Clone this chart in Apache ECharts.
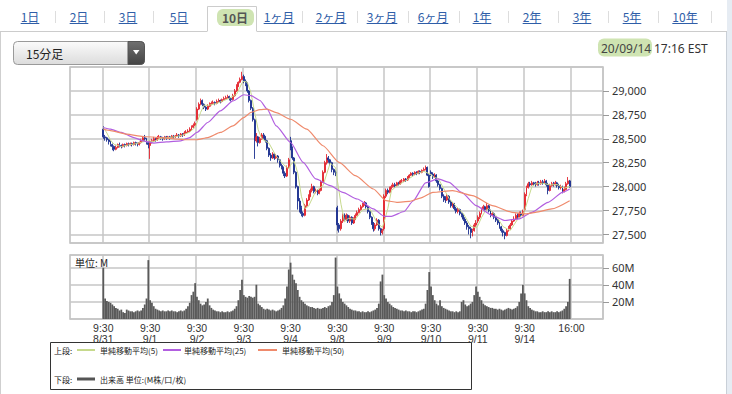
<!DOCTYPE html>
<html><head><meta charset="utf-8">
<script src="https://cdn.jsdelivr.net/npm/echarts@6/dist/echarts.min.js"></script>
<style>html,body{margin:0;padding:0;background:#fff;}#c{width:732px;height:394px;}</style>
</head><body><div id="c"></div><script>
// ---------- DATA ----------
const days = ['8/31','9/1','9/2','9/3','9/4','9/8','9/9','9/10','9/11','9/14'];
const openTimeLabel = '9:30';
const closeTimeLabel = '16:00';
const barsPerDay = 26;
const dayOpens = [28600,28430,28700,29150,28480,27780,27560,28150,27640,27760];
const closes = [
 [28520,28510,28490,28470,28440,28420,28390,28410,28440,28430,28420,28440,28430,28450,28440,28450,28440,28460,28450,28440,28460,28480,28510,28500,28460,28440],
 [28470,28480,28500,28490,28510,28520,28510,28500,28520,28510,28520,28510,28530,28520,28530,28540,28530,28550,28540,28560,28570,28580,28600,28620,28640,28660],
 [28810,28860,28900,28860,28830,28810,28840,28860,28870,28880,28870,28890,28900,28890,28910,28920,28930,28940,28920,28910,28950,29000,29050,29090,29120,29150],
 [29100,29080,29000,28900,28820,28700,28480,28520,28460,28500,28540,28520,28480,28400,28330,28300,28340,28300,28320,28280,28220,28200,28140,28110,28200,28280],
 [28400,28300,28150,28000,27850,27780,27720,27700,27800,27860,27900,27960,28000,27950,27960,27930,27960,28050,28150,28250,28300,28280,28250,28180,28150,28130],
 [27600,27560,27640,27700,27660,27700,27640,27680,27620,27660,27700,27730,27760,27790,27810,27830,27790,27740,27680,27620,27560,27600,27650,27560,27520,27540],
 [27900,27960,27940,27990,28000,28020,28010,28040,28030,28060,28060,28080,28070,28100,28120,28140,28130,28150,28140,28160,28150,28170,28180,28200,28120,28000],
 [28130,28100,28120,28060,28020,27980,27900,27880,27860,27900,27840,27800,27820,27770,27740,27760,27720,27700,27660,27620,27580,27560,27520,27540,27600,27620],
 [27680,27720,27760,27790,27760,27800,27750,27700,27720,27680,27650,27620,27580,27540,27520,27490,27540,27560,27600,27640,27660,27700,27680,27720,27700,27740],
 [27920,27990,28030,28020,28040,28030,28020,28040,28030,28050,28040,28060,28020,27960,28010,28030,28020,28040,28010,27990,28000,27950,27970,28030,28060,28000]
];
const highs = [
 [28630,28540,28520,28500,28480,28450,28430,28430,28450,28460,28440,28450,28450,28460,28460,28460,28460,28470,28470,28460,28470,28500,28530,28540,28510,28470],
 [28480,28500,28520,28510,28530,28540,28530,28520,28530,28530,28530,28530,28540,28540,28540,28560,28550,28560,28560,28580,28590,28600,28620,28640,28660,28680],
 [28830,28880,28920,28910,28870,28840,28860,28880,28890,28900,28890,28910,28920,28910,28920,28940,28950,28960,28950,28930,28970,29020,29070,29100,29140,29200],
 [29170,29120,29090,29010,28910,28830,28710,28560,28530,28520,28560,28560,28530,28490,28410,28350,28360,28350,28340,28330,28290,28240,28210,28160,28220,28300],
 [28520,28420,28310,28160,28010,27880,27800,27740,27820,27880,27920,27980,28030,28010,27980,27970,27980,28070,28170,28270,28340,28320,28290,28260,28190,28170],
 [27800,27620,27660,27720,27720,27720,27710,27700,27690,27680,27720,27750,27780,27810,27830,27850,27840,27800,27750,27690,27630,27620,27670,27660,27570,27560],
 [27920,27980,27980,28000,28020,28040,28040,28050,28050,28070,28080,28090,28090,28110,28130,28150,28150,28160,28160,28170,28170,28180,28200,28220,28210,28130],
 [28170,28150,28140,28130,28070,28030,27990,27920,27900,27920,27910,27860,27840,27830,27790,27780,27770,27730,27710,27680,27640,27600,27580,27560,27620,27650],
 [27700,27740,27780,27810,27800,27830,27810,27760,27740,27730,27690,27660,27630,27590,27560,27530,27560,27590,27620,27660,27690,27720,27720,27740,27740,27760],
 [27940,28010,28050,28050,28060,28050,28050,28060,28060,28070,28070,28080,28070,28040,28030,28050,28050,28060,28050,28030,28020,28010,28000,28050,28100,28070]
];
const lows = [
 [28500,28480,28470,28440,28420,28380,28370,28380,28400,28410,28400,28410,28410,28420,28420,28430,28420,28430,28430,28420,28430,28450,28470,28480,28440,28400],
 [28290,28450,28470,28470,28480,28500,28490,28480,28490,28490,28500,28490,28500,28500,28510,28520,28510,28520,28520,28530,28550,28560,28570,28590,28610,28630],
 [28690,28800,28850,28840,28810,28790,28800,28830,28850,28860,28850,28860,28880,28870,28880,28900,28910,28920,28900,28890,28900,28940,28990,29040,29080,29110],
 [29080,29050,28980,28880,28800,28680,28290,28460,28420,28450,28490,28500,28460,28380,28310,28270,28290,28280,28290,28250,28200,28180,28110,28090,28100,28190],
 [28380,28280,28130,27980,27760,27730,27690,27680,27690,27790,27850,27890,27940,27930,27930,27910,27920,27950,28040,28140,28230,28250,28220,28150,28120,28110],
 [27540,27520,27540,27620,27640,27640,27620,27620,27600,27610,27650,27690,27720,27750,27780,27800,27770,27720,27660,27600,27530,27540,27590,27540,27490,27500],
 [27540,27880,27920,27930,27970,27990,27990,28000,28010,28020,28040,28050,28050,28060,28090,28110,28110,28120,28120,28130,28130,28140,28160,28170,28110,27990],
 [28110,28080,28090,28040,28000,27960,27880,27840,27830,27850,27820,27780,27780,27750,27720,27720,27700,27680,27640,27600,27550,27500,27460,27480,27530,27580],
 [27620,27660,27710,27750,27740,27750,27730,27680,27690,27660,27630,27600,27560,27520,27480,27450,27480,27530,27550,27590,27630,27650,27660,27670,27680,27690],
 [27740,27900,27980,28000,28010,28010,28000,28010,28010,28020,28020,28030,28000,27920,27950,28000,28000,28010,27990,27970,27970,27930,27940,27960,28020,27990]
];
// volume, millions of shares per 15-minute bar
const volumes = [
 [60,24,21,20,19,17,15,13,12,10,11,8,7,11,10,9,9,8,9,10,9,10,13,17,24,69],
 [22,19,15,12,11,10,9,10,9,9,10,9,10,9,9,8,9,10,9,10,12,15,19,28,32,42],
 [26,22,18,16,17,20,24,16,13,11,10,9,9,8,9,8,8,9,8,9,10,12,15,22,34,46],
 [28,26,25,27,26,25,26,40,18,16,14,12,11,12,11,10,11,10,9,10,11,13,16,24,38,58],
 [66,52,46,42,34,26,22,20,18,16,15,14,14,13,12,13,12,12,13,14,13,15,16,20,28,72],
 [38,30,24,20,18,16,14,12,11,10,10,9,9,8,9,8,8,9,8,9,10,11,13,18,44,52],
 [28,24,20,18,16,14,13,12,11,10,10,9,10,9,9,8,9,9,8,9,10,11,12,18,34,55],
 [38,28,22,18,16,22,15,13,12,11,10,9,9,8,9,8,9,20,22,17,15,16,18,20,28,38],
 [32,26,22,18,16,15,14,13,13,12,12,11,12,11,10,11,12,13,12,11,12,13,15,20,30,40],
 [30,22,15,13,11,10,9,9,8,8,9,8,8,9,8,9,8,8,9,8,9,10,12,15,20,47]
];
// moving averages: [bar number from 8/31 9:30, value]
const ma5 = [[0,28620],[2,28560],[4,28486],[6,28442],[10,28418],[14,28436],[18,28448],[22,28468],[25,28478],
 [26,28476],[28,28470],[30,28490],[32,28506],[36,28512],[40,28522],[44,28538],[48,28570],[51,28620],
 [52,28666],[54,28774],[56,28852],[58,28848],[62,28864],[66,28892],[70,28924],[74,28966],[77,29082],
 [78,29102],[80,29090],[82,28980],[84,28780],[86,28596],[88,28500],[92,28454],[96,28318],[100,28232],[103,28186],
 [104,28226],[106,28266],[108,28140],[110,27900],[112,27770],[114,27796],[118,27954],[122,28010],[126,28246],[129,28198],
 [130,28062],[132,27816],[134,27632],[136,27668],[140,27660],[144,27758],[148,27770],[152,27622],[155,27574],
 [156,27634],[158,27772],[160,27958],[162,27992],[166,28040],[170,28086],[174,28136],[178,28160],[181,28134],
 [182,28126],[184,28094],[186,28086],[188,28016],[192,27876],[196,27794],[200,27716],[204,27588],[207,27568],
 [208,27592],[210,27676],[212,27742],[214,27772],[218,27700],[222,27582],[226,27542],[230,27656],[233,27708],
 [234,27752],[236,27876],[238,28000],[240,28028],[244,28036],[248,28018],[252,28022],[256,27984],[259,28002]];
const ma25 = [[0,28618],[4,28600],[10,28566],[17,28513],[22,28479],[28,28455],[35,28468],[43,28479],[48,28513],[52,28566],
 [58,28670],[65,28791],[72,28895],[78,28960],[82,28950],[87,28900],[91,28809],[96,28635],[104,28461],[111,28253],
 [118,28080],[126,28010],[133,27940],[141,27871],[150,27767],[156,27690],[160,27690],[167,27740],[172,27850],[179,28040],
 [186,28080],[192,28045],[199,27940],[207,27802],[216,27698],[223,27646],[231,27663],[238,27732],[247,27836],[255,27940],[259,27975]];
const ma50 = [[0,28600],[4,28585],[13,28548],[22,28524],[32,28513],[41,28496],[46,28490],[52,28490],[58,28513],[65,28566],
 [72,28635],[78,28722],[82,28775],[87,28805],[91,28809],[96,28774],[104,28704],[113,28600],[122,28427],[131,28253],
 [140,28114],[150,27975],[157,27853],[163,27836],[170,27845],[176,27880],[183,27940],[194,27958],[205,27906],[216,27802],
 [227,27732],[235,27715],[240,27732],[249,27767],[259,27853]];
const tabLabels = ['1日','2日','3日','5日','10日','1ヶ月','2ヶ月','3ヶ月','6ヶ月','1年','2年','3年','5年','10年'];
const selectedTab = '10日';
const intervalLabel = '15分足';
const dateText = '20/09/14';
const timeText = '17:16 EST';
const legendTop = ['上段:', '単純移動平均(5)', '単純移動平均(25)', '単純移動平均(50)'];
const legendBottom = ['下段:', '出来高 単位:(M株/口/枚)'];
const volUnitText = '単位: M';

// ---------- BUILD ----------
const PAD = 18;
const nBars = days.length * barsPerDay;
const nCats = PAD * 2 + nBars;
const timeCats = new Array(nCats).fill('');
const dateCats = new Array(nCats).fill('');
const dayStart = new Set();
days.forEach((d, i) => {
  timeCats[PAD + i * barsPerDay] = openTimeLabel;
  dateCats[PAD + i * barsPerDay] = d;
  dayStart.add(PAD + i * barsPerDay);
});
timeCats[PAD + nBars] = closeTimeLabel; dayStart.add(PAD + nBars);

const candleData = [], volData = [];
days.forEach((d, di) => {
  for (let k = 0; k < barsPerDay; k++) {
    const o = k === 0 ? dayOpens[di] : closes[di][k - 1];
    candleData.push([PAD + di * barsPerDay + k, o, closes[di][k], lows[di][k], highs[di][k]]);
    volData.push([PAD + di * barsPerDay + k, volumes[di][k]]);
  }
});
const shift = arr => arr.map(p => [PAD + p[0], p[1]]);

const UP = '#e3262f', DOWN = '#1b2f8f';
const C5 = '#c6d98c', C25 = '#b25fe0', C50 = '#ef8a6c';
const GRID = '#c6c6c6';
const CJK = '"Noto Sans CJK JP"';
const LAT = '"Noto Sans"';

// ---------- GRAPHICS ----------
const g = [];
const mctx = document.createElement('canvas').getContext('2d');
function tw(t, font) { mctx.font = font; return mctx.measureText(t).width; }
function txt(x, y, text, font, fill, align) {
  g.push({type: 'text', x: x, y: y, z: 20, silent: true,
    style: {text: text, font: font, fill: fill, align: align || 'left', verticalAlign: 'middle'}});
}
function ln(x1, y1, x2, y2, stroke, w) {
  g.push({type: 'line', z: 15, silent: true, shape: {x1, y1, x2, y2}, style: {stroke: stroke, lineWidth: w}});
}
function rc(x, y, w, h, style, r, z) {
  g.push({type: 'rect', z: z || 5, silent: true, shape: {x, y, width: w, height: h, r: r || 0}, style: style});
}
// page frame
rc(727, 0, 5, 394, {fill: '#e6ecf3'}, 0, 1);
ln(726.5, 31, 726.5, 394, '#c9d0d8', 1);
ln(0.5, 31, 0.5, 394, '#cfcfcf', 1);
// tabs
const tabCenters = [30, 79, 128, 179, 232, 279, 331, 382, 433, 482, 532, 582, 632, 685];
const sepX = [55, 104, 153, 302, 357, 408, 459, 508, 558, 608, 658, 711];
sepX.forEach(x => ln(x + 0.5, 11, x + 0.5, 23, '#dddddd', 1));
ln(0, 31.5, 207, 31.5, '#cccccc', 1);
ln(257, 31.5, 727, 31.5, '#cccccc', 1);
g.push({type: 'polyline', z: 15, silent: true, shape: {points: [[207.5, 31.5], [207.5, 6.5], [256.5, 6.5], [256.5, 31.5]]}, style: {stroke: '#cccccc', lineWidth: 1, fill: null}});
const tabFont = '12px ' + CJK;
tabLabels.forEach((t, i) => {
  const cx = tabCenters[i];
  if (t === selectedTab) {
    rc(217, 9, 37, 17, {fill: '#cfe4b2'}, 6, 8);
    txt(cx + 3, 17, t, 'bold 12px ' + CJK, '#555555', 'center');
  } else {
    const w = tw(t, tabFont);
    txt(cx, 16, t, tabFont, '#2f5ea8', 'center');
    ln(cx - w / 2, 23.5, cx + w / 2, 23.5, '#2f5ea8', 1);
  }
});
// dropdown
rc(13.5, 41.5, 131, 23, {fill: new echarts.graphic.LinearGradient(0, 0, 0, 1, [{offset: 0, color: '#fbfbfb'}, {offset: 1, color: '#dcdcdc'}]), stroke: '#9a9a9a', lineWidth: 1}, 4, 6);
rc(128, 41.5, 16.5, 23, {fill: new echarts.graphic.LinearGradient(0, 0, 0, 1, [{offset: 0, color: '#707070'}, {offset: 1, color: '#444444'}]), stroke: '#555', lineWidth: 1}, [0, 4, 4, 0], 7);
g.push({type: 'polygon', z: 9, silent: true, shape: {points: [[133, 50], [139.5, 50], [136.2, 54.5]]}, style: {fill: '#ffffff'}});
txt(26, 53, intervalLabel, '12px ' + CJK, '#222222');
// date
rc(598, 38.5, 54, 18, {fill: '#cfe4b2'}, 6, 6);
txt(601, 48, dateText, '12px ' + LAT, '#444444');
txt(654, 48, timeText, '12px ' + LAT, '#333333');
// volume unit
txt(75, 262, volUnitText, '10px ' + CJK, '#222222');
// legend
g.push({type: 'rect', z: 6, silent: true, shape: {x: 50.5, y: 342.5, width: 421, height: 47}, style: {fill: '#fff', stroke: '#333', lineWidth: 1}});
const lf = '8px ' + CJK;
txt(54, 350, legendTop[0], lf, '#222');
ln(77, 350, 95, 350, C5, 2); txt(100, 350, legendTop[1], lf, '#222');
ln(163, 350, 181, 350, C25, 2); txt(184, 350, legendTop[2], lf, '#222');
ln(258, 350, 277, 350, C50, 2); txt(282, 350, legendTop[3], lf, '#222');
txt(54, 379, legendBottom[0], lf, '#222');
ln(77, 379, 95, 379, '#555555', 3); txt(100, 379, legendBottom[1], lf, '#222');

// ---------- CHART ----------
const chart = echarts.init(document.getElementById('c'), null, {renderer: 'svg'});
const fmt = v => String(Math.round(v)).replace(/\B(?=(\d{3})+(?!\d))/g, ',');
const xBase = {
  type: 'category', boundaryGap: true,
  axisLine: {show: false}, axisTick: {show: false},
  splitLine: {show: true, interval: (i) => dayStart.has(i), lineStyle: {color: GRID, width: 1.5}}
};
const xLab = {show: true, interval: (i, v) => v !== '', color: '#333', fontSize: 10.5, fontFamily: 'Liberation Sans'};
chart.setOption({
  animation: false,
  backgroundColor: '#ffffff',
  grid: [
    {left: 70, right: 129, top: 67, height: 176, show: true, borderColor: '#bdbdbd', borderWidth: 1.5, backgroundColor: 'transparent'},
    {left: 70, right: 129, top: 255, height: 64, show: true, borderColor: '#bdbdbd', borderWidth: 1.5, backgroundColor: 'transparent'}
  ],
  xAxis: [
    Object.assign({}, xBase, {gridIndex: 0, data: timeCats, axisLabel: {show: false}}),
    Object.assign({}, xBase, {gridIndex: 1, data: timeCats, axisLabel: Object.assign({}, xLab, {margin: 3})}),
    Object.assign({}, xBase, {gridIndex: 1, data: dateCats, position: 'bottom', offset: 11, splitLine: {show: false}, axisLabel: Object.assign({}, xLab, {margin: 3})})
  ],
  yAxis: [
    {type: 'value', gridIndex: 0, position: 'right', min: 27411, max: 29250, minInterval: 250, maxInterval: 250, splitNumber: 7,
      axisLine: {show: false}, axisTick: {show: true, length: 6, lineStyle: {color: '#999'}},
      axisLabel: {showMinLabel: false, showMaxLabel: false, formatter: fmt, margin: 9, color: '#333', fontSize: 11, fontFamily: 'Noto Sans'},
      splitLine: {lineStyle: {color: GRID, width: 1.5}}},
    {type: 'value', gridIndex: 1, position: 'right', min: 0, max: 75, interval: 20,
      axisLine: {show: false}, axisTick: {show: true, length: 6, lineStyle: {color: '#999'}},
      axisLabel: {showMinLabel: false, showMaxLabel: false, formatter: v => v + 'M', margin: 9, color: '#333', fontSize: 11, fontFamily: 'Noto Sans'},
      splitLine: {lineStyle: {color: GRID, width: 1.5}}}
  ],
  series: [
    {type: 'candlestick', xAxisIndex: 0, yAxisIndex: 0, data: candleData,
      dimensions: ['t', 'open', 'close', 'lowest', 'highest'],
      encode: {x: 't', y: ['open', 'close', 'lowest', 'highest']},
      barWidth: 1.4,
      itemStyle: {color: UP, color0: DOWN, borderColor: UP, borderColor0: DOWN, borderWidth: 0.9}},
    {type: 'line', xAxisIndex: 0, yAxisIndex: 0, data: shift(ma5), symbol: 'none', lineStyle: {color: C5, width: 1}, z: 3},
    {type: 'line', xAxisIndex: 0, yAxisIndex: 0, data: shift(ma25), symbol: 'none', smooth: 0.2, smoothMonotone: 'x', lineStyle: {color: C25, width: 1.2}, z: 4},
    {type: 'line', xAxisIndex: 0, yAxisIndex: 0, data: shift(ma50), symbol: 'none', smooth: 0.2, smoothMonotone: 'x', lineStyle: {color: C50, width: 1.2}, z: 4},
    {type: 'bar', xAxisIndex: 1, yAxisIndex: 1, data: volData, barWidth: '100%', barCategoryGap: 0, itemStyle: {color: '#5a5a5a'}}
  ],
  graphic: {elements: g}
});
</script></body></html>
